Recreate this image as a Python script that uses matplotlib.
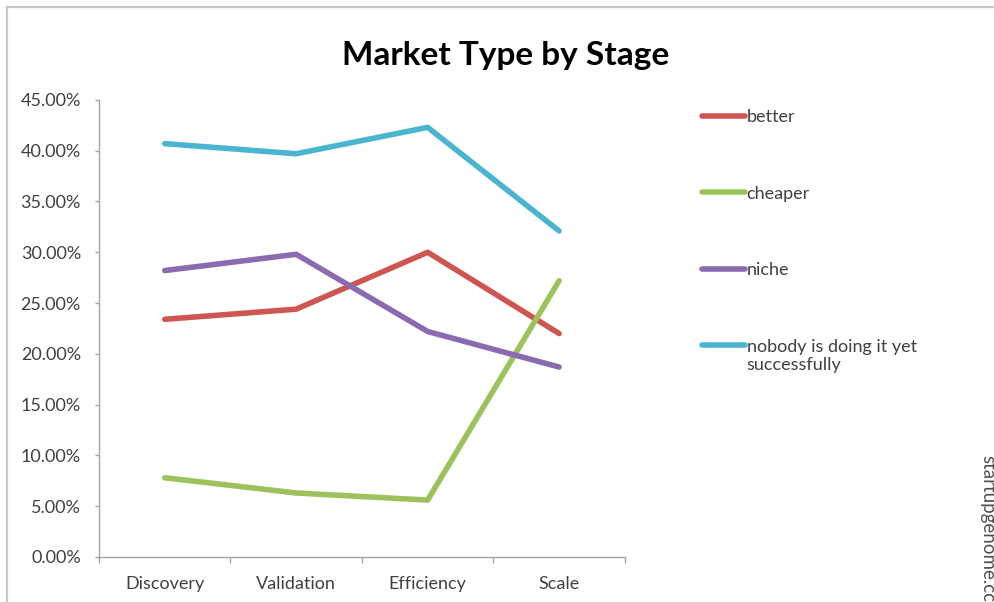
import matplotlib
matplotlib.use("Agg")
import matplotlib.pyplot as plt
from matplotlib.lines import Line2D
from matplotlib.ticker import FuncFormatter, FixedLocator

plt.rcParams['font.family'] = ['Lato', 'DejaVu Sans']

stages = ["Discovery", "Validation", "Efficiency", "Scale"]
better = [0.234, 0.244, 0.300, 0.220]
cheaper = [0.078, 0.063, 0.056, 0.272]
niche = [0.282, 0.298, 0.222, 0.187]
nobody = [0.407, 0.397, 0.423, 0.321]
series_names = ["better", "cheaper", "niche", "nobody is doing it yet\nsuccessfully"]
colors = ["#CF5550", "#9DC25B", "#8B6BB0", "#4BB4CE"]

fig = plt.figure(figsize=(9.95, 6.02), dpi=100)
# chart border
fig.add_artist(Line2D([0.0075, 0.0075], [0, 0.988], transform=fig.transFigure, color="#C8C8C8", lw=1.6))
fig.add_artist(Line2D([0.0075, 1.0], [0.988, 0.988], transform=fig.transFigure, color="#C8C8C8", lw=1.6))

ax = fig.add_axes([0.0995, 0.0748, 0.5285, 0.7592])
x = list(range(len(stages)))
for vals, name, c in zip([better, cheaper, niche, nobody], series_names, colors):
    ax.plot(x, vals, color=c, lw=4.0, label=name, solid_capstyle='round', solid_joinstyle='round')

ax.set_xlim(-0.5, 3.5)
ax.set_ylim(0, 0.45)
ax.set_yticks([i * 0.05 for i in range(10)])
ax.yaxis.set_major_formatter(FuncFormatter(lambda v, p: f"{v*100:.2f}%"))
ax.set_xticks(x)
ax.set_xticklabels(stages)
ax.xaxis.set_minor_locator(FixedLocator([-0.5, 0.5, 1.5, 2.5, 3.5]))
ax.tick_params(axis='x', which='major', length=0, pad=14, labelsize=13, labelcolor="#404040")
ax.tick_params(axis='x', which='minor', length=4, color="#A6A6A6", width=1)
ax.tick_params(axis='y', length=3, color="#A6A6A6", width=1, pad=10, labelsize=13, labelcolor="#404040")
for s in ["top", "right"]:
    ax.spines[s].set_visible(False)
for s in ["left", "bottom"]:
    ax.spines[s].set_color("#A6A6A6")
    ax.spines[s].set_linewidth(1)

fig.text(0.508, 0.907, "Market Type by Stage", ha="center", va="center", fontsize=24, fontweight="bold", color="#000000")

leg = ax.legend(loc="upper left", bbox_to_anchor=(1.115, 1.015), frameon=False, handlelength=2.4,
                handletextpad=0.1, labelspacing=3.35, fontsize=13, labelcolor="#404040")
for h in leg.legend_handles:
    h.set_linewidth(4)
# align the last handle with the first line of its two-line label
last = leg.legend_handles[-1]
last.set_ydata([y + 8.0 for y in last.get_ydata()])

fig.text(0.993, 0.245, "startupgenome.cc", rotation=270, ha="center", va="top", fontsize=13.5, color="#505050")

fig.savefig("out.png", dpi=100, facecolor="white")
